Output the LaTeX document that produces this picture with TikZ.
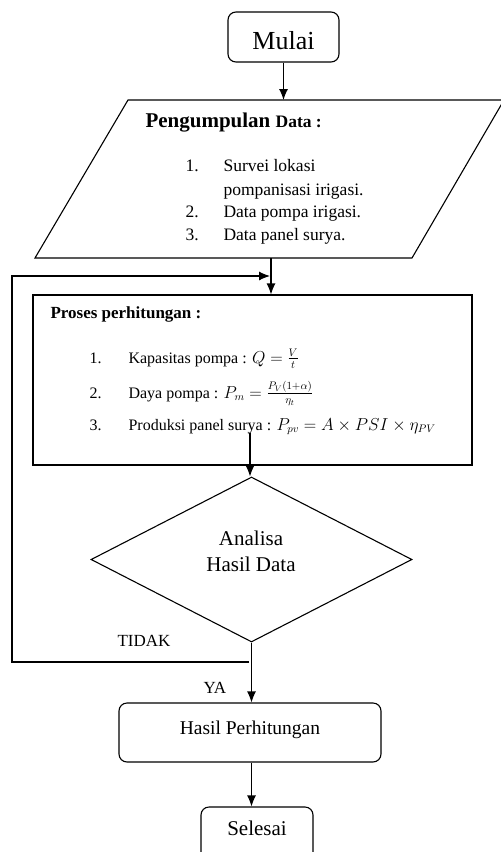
\documentclass[tikz,border=0pt]{standalone}
\usepackage{fontspec}
\setmainfont{Liberation Serif}
\usepackage{amsmath}
\usetikzlibrary{shapes.geometric,arrows.meta,positioning}
\newcommand{\fsz}[1]{\fontsize{#1}{#1}\selectfont}
\begin{document}
\begin{tikzpicture}
	[   x=1pt,y=-1pt,
	    line width=1.1pt,
	    term/.style={draw=black,rounded corners=8pt,inner sep=0pt},
	    txt/.style={anchor=base west,inner sep=0pt},
	]
	\tikzset{normal arrow/.style={draw,-{Latex[length=11pt,width=9pt]}}}
	\useasboundingbox (0,0) rectangle (501,852);
	
	\node[term,minimum width=111pt,minimum height=50pt,text height=24pt,text depth=0pt,font=\fsz{26}] (mulai) at (283.5,37) {Mulai};
	
	% input data
	\draw (128,100) -- (504,100) -- (412,258) -- (35,258) -- cycle;
	\coordinate (pg-in) at (mulai.south |- 0,100);
	\coordinate (pg-out) at (271,258);
	\node[txt] (pg-head) at (145,127) {\fsz{21}\bfseries Pengumpulan {\fsz{17.5}Data :}};
	\node[txt,font=\fsz{17.5}] (pg-n1) at (185,171) {1.};
	\node[txt,font=\fsz{17.5}] (pg-t1) at (223,171) {Survei lokasi};
	\node[txt,font=\fsz{17.5}] (pg-t1b) at (223,195) {pompanisasi irigasi.};
	\node[txt,font=\fsz{17.5}] (pg-n2) at (185,217) {2.};
	\node[txt,font=\fsz{17.5}] (pg-t2) at (223,217) {Data pompa irigasi.};
	\node[txt,font=\fsz{17.5}] (pg-n3) at (185,240) {3.};
	\node[txt,font=\fsz{17.5}] (pg-t3) at (223,240) {Data panel surya.};
	
	% process
	\node[draw=black,minimum width=439pt,minimum height=170pt,inner sep=0pt] (proc) at (252.5,380) {};
	\node[txt,font=\fsz{17}\bfseries] (proc-head) at (50,318) {Proses perhitungan :};
	\node[txt,font=\fsz{16}] (proc-n1) at (89,363) {1.};
	\node[txt,font=\fsz{16}] (proc-t1) at (128,363) {Kapasitas pompa : $Q = \frac{V}{t}$};
	\node[txt,font=\fsz{16}] (proc-n2) at (89,398) {2.};
	\node[txt,font=\fsz{16}] (proc-t2) at (128,398) {Daya pompa : $P_m = \frac{P_V(1+\alpha)}{\eta_t}$};
	\node[txt,font=\fsz{16}] (proc-n3) at (89,430) {3.};
	\node[txt,font=\fsz{16}] (proc-t3) at (128,430) {Produksi panel surya : $P_{pv} = A \times PSI \times \eta_{PV}$};
	\coordinate (proc-out) at (250,433);
	
	% decision
	\node[draw=black,diamond,minimum width=321pt,minimum height=165pt,inner sep=0pt] (dec) at (251.5,559.5) {};
	\node[anchor=base,inner sep=0pt,font=\fsz{21}] (dec-t1) at (251,545) {Analisa};
	\node[anchor=base,inner sep=0pt,font=\fsz{21}] (dec-t2) at (251,571) {Hasil Data};
	\node[txt,font=\fsz{17}] (tidak) at (117,646) {TIDAK};
	\node[txt,font=\fsz{17}] (ya) at (203,693) {YA};
	
	\node[term,minimum width=262pt,minimum height=59pt,text height=14pt,text depth=11pt,font=\fsz{19.5}] (hasil) at (250,732.5) {Hasil Perhitungan};
	\node[term,minimum width=112pt,minimum height=55pt,text height=15pt,text depth=14pt,font=\fsz{21}] (selesai) at (257,834.5) {Selesai};
	
	% loop back
	\coordinate (back-r) at (249,662);
	\coordinate (back-l) at (12,662);
	\coordinate (back-t) at (12,276);
	\coordinate (back-e) at (270,276);
	
	\path[normal arrow] (mulai) -- (pg-in);
	\path[normal arrow] (pg-out) -- (pg-out |- proc.north);
	\path[normal arrow] (proc-out) -- (proc-out |- dec.north);
	\path[normal arrow] (dec.south) -- (dec.south |- hasil.north);
	\path[normal arrow] (hasil.south -| dec.south) -- (dec.south |- selesai.north);
	\path[normal arrow] (back-r) -- (back-l) -- (back-t) -- (back-e);
\end{tikzpicture}
\end{document}
